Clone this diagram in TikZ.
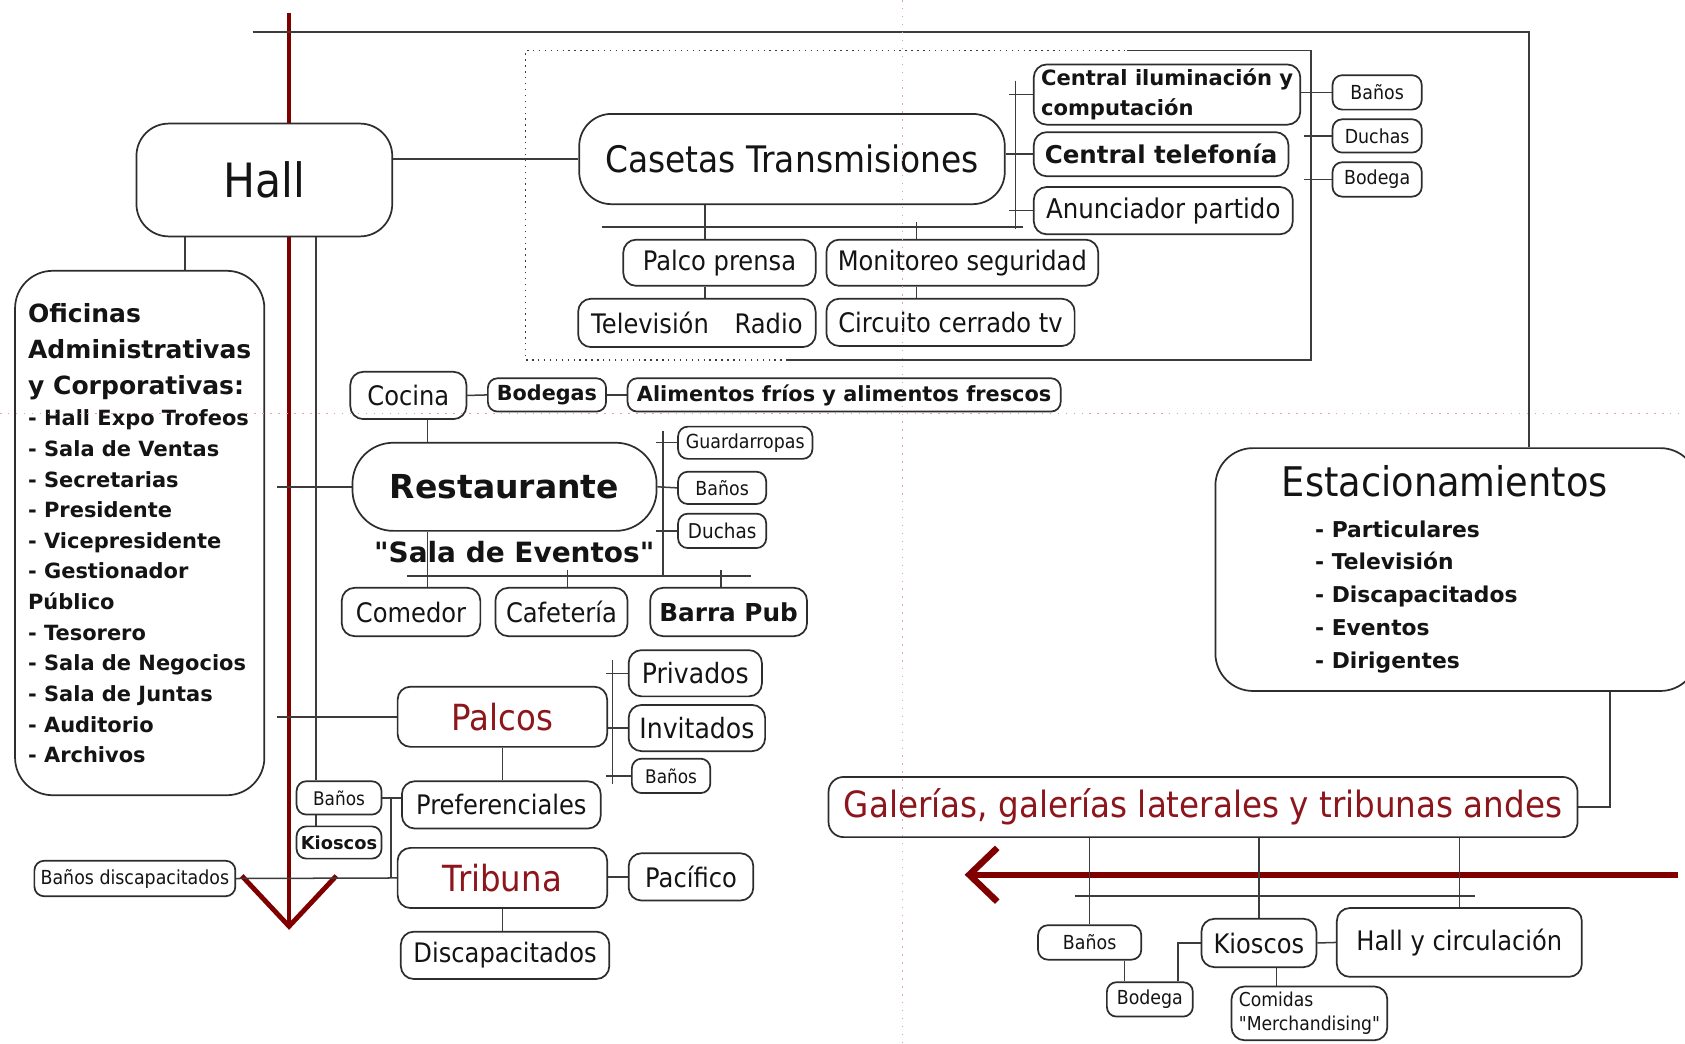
\documentclass[tikz,border=0pt]{standalone}
\usepackage{fontspec}
\setmainfont{DejaVu Sans}[FakeStretch=0.9]
\newfontfamily\bfnt{DejaVu Sans Bold}
\newfontfamily\rfnt{DejaVu Sans}[FakeStretch=0.9]
\usetikzlibrary{calc,backgrounds}
\definecolor{redline}{RGB}{128,0,0}
\definecolor{redtxt}{RGB}{140,22,28}
\definecolor{linec}{RGB}{60,60,60}
\definecolor{boxc}{RGB}{45,45,45}
\definecolor{txt}{RGB}{20,20,20}
\definecolor{guidec}{RGB}{225,160,172}
\newcommand\fs[2]{\fontsize{#1}{#2}\selectfont}
\newcommand\estl{\bfnt\fs{20.3}{30.6}\hspace*{31pt}- }
\newcommand\ofl{\bfnt\fs{19.5}{28.5}}
\newcommand\ofb{\bfnt\fs{23.3}{28.5}}
\begin{document}
\begin{tikzpicture}[x=1pt,y=-1pt,
  bx/.style={draw=boxc, line width=1.6pt, fill=white, rounded corners=9pt, inner sep=0pt, align=center, text=txt},
  sz/.style 2 args={minimum width=#1pt, minimum height=#2pt},
  ln/.style={draw=linec, line width=1.4pt},
  dotln/.style={draw=linec, line width=1.3pt, dash pattern=on 1.3pt off 4.2pt},
  redln/.style={draw=redline, line join=miter},
  guide/.style={draw=guidec, line width=1.4pt, dash pattern=on 1.4pt off 6pt},
  fM/.style={font=\fs{25}{30}},
  fS/.style={font=\fs{18}{22}},
  fL/.style={font=\fs{33.7}{40}},
  rtx/.style={text=redtxt}
]
\useasboundingbox (0,0) rectangle (1568,971);

% ---------------- nodes ----------------
\node[bx, sz={238}{105}, rounded corners=30pt, font=\fs{44}{50}] (hall) at (246,167.5) {Hall};
\node[bx, sz={396}{84}, rounded corners=30pt, font=\fs{34}{40}] (casetas) at (737,148) {Casetas Transmisiones};
\node[bx, sz={248}{56}, rounded corners=12pt, align=left, font=\bfnt\fs{19.6}{28}] (centralil) at (1086,88) {\bfnt\fs{19.6}{28}Central iluminación y\\\bfnt\fs{19.6}{28}computación};
\node[bx, sz={237}{41}, rounded corners=12pt, font=\bfnt\fs{22.8}{27}] (centraltel) at (1080.5,143.5) {Central telefonía};
\node[bx, sz={241}{44}, rounded corners=12pt, font=\fs{25.3}{30}] (anunciador) at (1082.5,196) {Anunciador partido};
\node[bx, sz={83}{32}, fS] (banos1) at (1281.5,86) {Baños};
\node[bx, sz={83}{31}, fS] (duchas1) at (1281.5,126.5) {Duchas};
\node[bx, sz={83}{32}, fS] (bodega1) at (1281.5,167) {Bodega};
\node[bx, sz={179}{43}, rounded corners=12pt, fM] (palcoprensa) at (669.5,244.5) {Palco prensa};
\node[bx, sz={253}{43}, rounded corners=12pt, fM] (monitoreo) at (895.5,244.5) {Monitoreo seguridad};
\node[bx, sz={221}{45}, rounded corners=12pt, fM] (tvradio) at (648.5,300.5) {Televisión\hspace{24pt}Radio};
\node[bx, sz={231}{44}, rounded corners=12pt, fM] (circuito) at (884.5,300) {Circuito cerrado tv};

\node[bx, sz={108}{44}, rounded corners=12pt, fM] (cocina) at (380,368) {Cocina};
\node[bx, sz={110}{31}, font=\bfnt\fs{19.3}{23}] (bodegas) at (509,367.5) {Bodegas};
\node[bx, sz={403}{31}, font=\bfnt\fs{19.4}{23}] (alimentos) at (785.5,367.5) {Alimentos fríos y alimentos frescos};
\node[bx, sz={283}{82}, rounded corners=38pt, font=\bfnt\fs{30.7}{36}] (restaurante) at (469.5,453) {Restaurante};
\node[anchor=base, inner sep=0pt, text=txt, font=\bfnt\fs{26}{30}] (sala) at (478.5,523.6) {"Sala de Eventos"};
\node[bx, sz={125}{30}, fS] (guardarropas) at (693.5,412) {Guardarropas};
\node[bx, sz={82}{30}, fS] (banos2) at (672,454) {Baños};
\node[bx, sz={82}{32}, font=\fs{19}{23}] (duchas2) at (672,494) {Duchas};
\node[bx, sz={129}{45}, rounded corners=12pt, fM] (comedor) at (382.5,569.5) {Comedor};
\node[bx, sz={123}{45}, rounded corners=12pt, fM] (cafeteria) at (522.5,569.5) {Cafetería};
\node[bx, sz={146}{45}, rounded corners=12pt, font=\bfnt\fs{23}{28}] (barrapub) at (678,569.5) {Barra Pub};

\node[bx, sz={232}{488}, rounded corners=35pt, align=left, font=\ofl] (oficinas) at (130,496)
 {\ofb Oficinas\\[5pt]\ofb Administrativas\\[5pt]\ofb y Corporativas:\\[1pt]\ofl - Hall Expo Trofeos\\\ofl - Sala de Ventas\\\ofl - Secretarias\\\ofl - Presidente\\\ofl - Vicepresidente\\\ofl - Gestionador\\\ofl Público\\\ofl - Tesorero\\\ofl - Sala de Negocios\\\ofl - Sala de Juntas\\\ofl - Auditorio\\\ofl - Archivos};

\node[bx, sz={195}{56}, rounded corners=12pt, font=\fs{33.5}{40}, rtx] (palcos) at (467.5,667) {Palcos};
\node[bx, sz={124}{43}, rounded corners=12pt, font=\fs{26}{30}] (privados) at (647,626.5) {Privados};
\node[bx, sz={127}{43}, rounded corners=12pt, font=\fs{26}{30}] (invitados) at (648.5,677.5) {Invitados};
\node[bx, sz={73}{32}, font=\fs{17.5}{21}] (banos3) at (624.5,722) {Baños};
\node[bx, sz={185}{44}, rounded corners=12pt, fM] (preferenciales) at (466.5,749) {Preferenciales};
\node[bx, sz={195}{56}, rounded corners=12pt, font=\fs{33.5}{40}, rtx] (tribuna) at (467.5,817) {Tribuna};
\node[bx, sz={116}{44}, rounded corners=12pt, fM] (pacifico) at (643,816) {Pacífico};
\node[bx, sz={194}{44}, rounded corners=12pt, fM] (discapacitados) at (470,889) {Discapacitados};
\node[bx, sz={79}{31}, font=\fs{17.5}{21}] (banos4) at (315.5,742.5) {Baños};
\node[bx, sz={79}{30}, font=\bfnt\fs{16.6}{20}] (kioscos1) at (315.5,784) {Kioscos};
\node[bx, sz={187}{33}, fS] (banosdisc) at (125.5,817.5) {Baños discapacitados};

\node[bx, sz={449}{226}, rounded corners=35pt, align=left, font=\fs{38}{30.6}] (estac) at (1355.5,530)
 {\fs{38}{30.6}Estacionamientos\hspace*{22pt}\\[6.8pt]\estl Particulares\\\estl Televisión\\\estl Discapacitados\\\estl Eventos\\\estl Dirigentes};
\node[bx, sz={697}{56}, rounded corners=14pt, fL, rtx] (galerias) at (1119.5,751) {Galerías, galerías laterales y tribunas andes};
\node[bx, sz={96}{32}, fS] (banos5) at (1014,877) {Baños};
\node[bx, sz={80}{32}, fS] (bodega5) at (1070,930) {Bodega};
\node[bx, sz={107}{45}, rounded corners=12pt, fM] (kioscos5) at (1171.5,877.5) {Kioscos};
\node[bx, sz={228}{64}, rounded corners=12pt, fM] (hallcirc) at (1358,877) {Hall y circulación};
\node[bx, sz={145}{50}, rounded corners=12pt, align=left, font=\rfnt\fs{17.8}{22.5}] (comidas) at (1218.5,943) {\rfnt\fs{17.8}{22.5}Comidas\\\rfnt\fs{17.8}{22.5}"Merchandising"};

% ---------------- connectors ----------------
\begin{pgfonlayer}{background}
\fill[white] (0,0) rectangle (1568,971);

% red flow arrows
\coordinate (rvT) at (269,12);
\coordinate (rvB) at (269,862);
\coordinate (rvA1) at (225,815);
\coordinate (rvA2) at (313,815);
\draw[redln, line width=4.5pt] (rvT) -- (rvB);
\draw[redln, line width=4.5pt] (rvA1) -- (rvB) -- (rvA2);
\coordinate (rhR) at (1561,814);
\coordinate (rhL) at (902,814);
\coordinate (rhA1) at (928,789);
\coordinate (rhA2) at (928,839);
\draw[redln, line width=6pt] (rhR) -- (rhL);
\draw[redln, line width=6pt] (rhA1) -- (rhL) -- (rhA2);

% top frame line to Estacionamientos
\coordinate (tl) at (235,30);
\coordinate (tr) at (1423,30);
\draw[ln, line width=1.8pt] (tl) -- (tr) -- (tr |- estac.north);

% Hall
\draw[ln] (hall.east |- casetas.west) -- (casetas.west);
\coordinate (hoX) at ($(oficinas.north)+(42,0)$);
\draw[ln] (hoX) -- (hoX |- hall.south);
\coordinate (hbX) at ($(banos4.north)+(-21.5,0)$);
\draw[ln] (hbX) -- (hbX |- hall.south);
\draw[ln] ($(banos4.south)+(-21.5,0)$) -- ($(kioscos1.north)+(-21.5,0)$);
\coordinate (o1) at (258,453);
\draw[ln] (o1) -- (restaurante.west);
\coordinate (o2) at (258,667);
\draw[ln] (o2) -- (palcos.west);

% dotted enclosure
\coordinate (d1) at (489,335);
\coordinate (d2) at (489,47);
\coordinate (d3) at (1049,47);
\coordinate (d4) at (1220,47);
\coordinate (d5) at (1220,335);
\coordinate (d6) at (733,335);
\draw[dotln] (d6) -- (d1) -- (d2) -- (d3);
\draw[ln, line width=1.8pt] (d3) -- (d4) -- (d5) -- (d6);

% Casetas
\coordinate (cb1) at (945,75);
\coordinate (cb2) at (945,213);
\draw[ln] (cb1) -- (cb2);
\draw[ln] (centralil.west) -- ++(-22,0);
\draw[ln] (casetas.east |- centraltel.west) -- (centraltel.west);
\draw[ln] (anunciador.west) -- ++(-22,0);
\coordinate (ch1) at (560,211);
\coordinate (ch2) at (952,211);
\draw[ln, line width=1.8pt] (ch1) -- (ch2);
\coordinate (ppX) at ($(palcoprensa.north)+(-13.5,0)$);
\draw[ln] (ppX |- casetas.south) -- (ppX);
\draw[ln] ($(monitoreo.north)+(-42.5,0)$) -- ++(0,-16);
\coordinate (ppS) at ($(palcoprensa.south)+(-13.5,0)$);
\draw[ln] (ppS) -- (ppS |- tvradio.north);
\coordinate (moS) at ($(monitoreo.south)+(-42.5,0)$);
\draw[ln] (moS) -- (moS |- circuito.north);
\draw[ln] (centralil.east |- banos1.west) -- (banos1.west);
\draw[ln] (duchas1.west) -- ++(-26,0);
\draw[ln] (bodega1.west) -- ++(-26,0);

% Cocina / Restaurante
\draw[ln] (cocina.east) -- (bodegas.west);
\draw[ln] (bodegas.east) -- (alimentos.west);
\coordinate (crX) at ($(cocina.south)+(18,0)$);
\draw[ln] (crX) -- (crX |- restaurante.north);
\coordinate (rcX) at ($(comedor.north)+(15.5,0)$);
\draw[ln] (rcX) -- (rcX |- restaurante.south);
\coordinate (rh1) at (379,536);
\coordinate (rh2) at (699,536);
\draw[ln] (rh1) -- (rh2);
\draw[ln] ($(cafeteria.north)+(5.5,0)$) -- ++(0,-16);
\draw[ln] ($(barrapub.north)+(-7,0)$) -- ++(0,-16);
\coordinate (rb1) at (617,401);
\coordinate (rb2) at (617,536);
\draw[ln] (rb1) -- (rb2);
\draw[ln] (guardarropas.west) -- ++(-20,0);
\draw[ln] (restaurante.east) -- (banos2.west);
\draw[ln] (duchas2.west) -- ++(-20,0);

% Palcos / Tribuna
\coordinate (pb1) at (570,614);
\coordinate (pb2) at (570,730);
\draw[ln] (pb1) -- (pb2);
\draw[ln] (privados.west) -- ++(-20,0);
\draw[ln] (palcos.east |- invitados.west) -- (invitados.west);
\draw[ln] (banos3.west) -- ++(-23,0);
\draw[ln] (palcos.south) -- (palcos.south |- preferenciales.north);
\draw[ln] (banos4.east) -- (preferenciales.west |- banos4.east);
\coordinate (bvX) at ($(banos4.east)+(8,0)$);
\draw[ln] (bvX) -- (bvX |- tribuna.west);
\draw[ln] (banosdisc.east) -- (tribuna.west);
\draw[ln] (tribuna.east |- pacifico.west) -- (pacifico.west);
\draw[ln] (tribuna.south) -- (tribuna.south |- discapacitados.north);

% Estacionamientos / Galerias
\coordinate (egX) at ($(estac.south)+(142.5,0)$);
\draw[ln] (egX) |- (galerias.east);
\draw[ln] (galerias.south -| banos5.north) -- (banos5.north);
\draw[ln] (galerias.south -| kioscos5.north) -- (kioscos5.north);
\draw[ln] (galerias.south -| hallcirc.north) -- (hallcirc.north);
\coordinate (gh1) at (1000,834);
\coordinate (gh2) at (1373,834);
\draw[ln] (gh1) -- (gh2);
\coordinate (bbX) at ($(banos5.south)+(32.5,0)$);
\draw[ln] (bbX) -- (bbX |- bodega5.north);
\draw[ln] ($(bodega5.north)+(26,0)$) |- (kioscos5.west);
\draw[ln] (kioscos5.east) -- (hallcirc.west);
\coordinate (kcX) at ($(kioscos5.south)+(16.5,0)$);
\draw[ln] (kcX) -- (kcX |- comidas.north);
\end{pgfonlayer}

% faint page guides
\coordinate (gH1) at (0,385);
\coordinate (gH2) at (1568,385);
\coordinate (gV1) at (840,0);
\coordinate (gV2) at (840,971);
\draw[guide] (gH1) -- (gH2);
\draw[guide] (gV1) -- (gV2);
\end{tikzpicture}
\end{document}
